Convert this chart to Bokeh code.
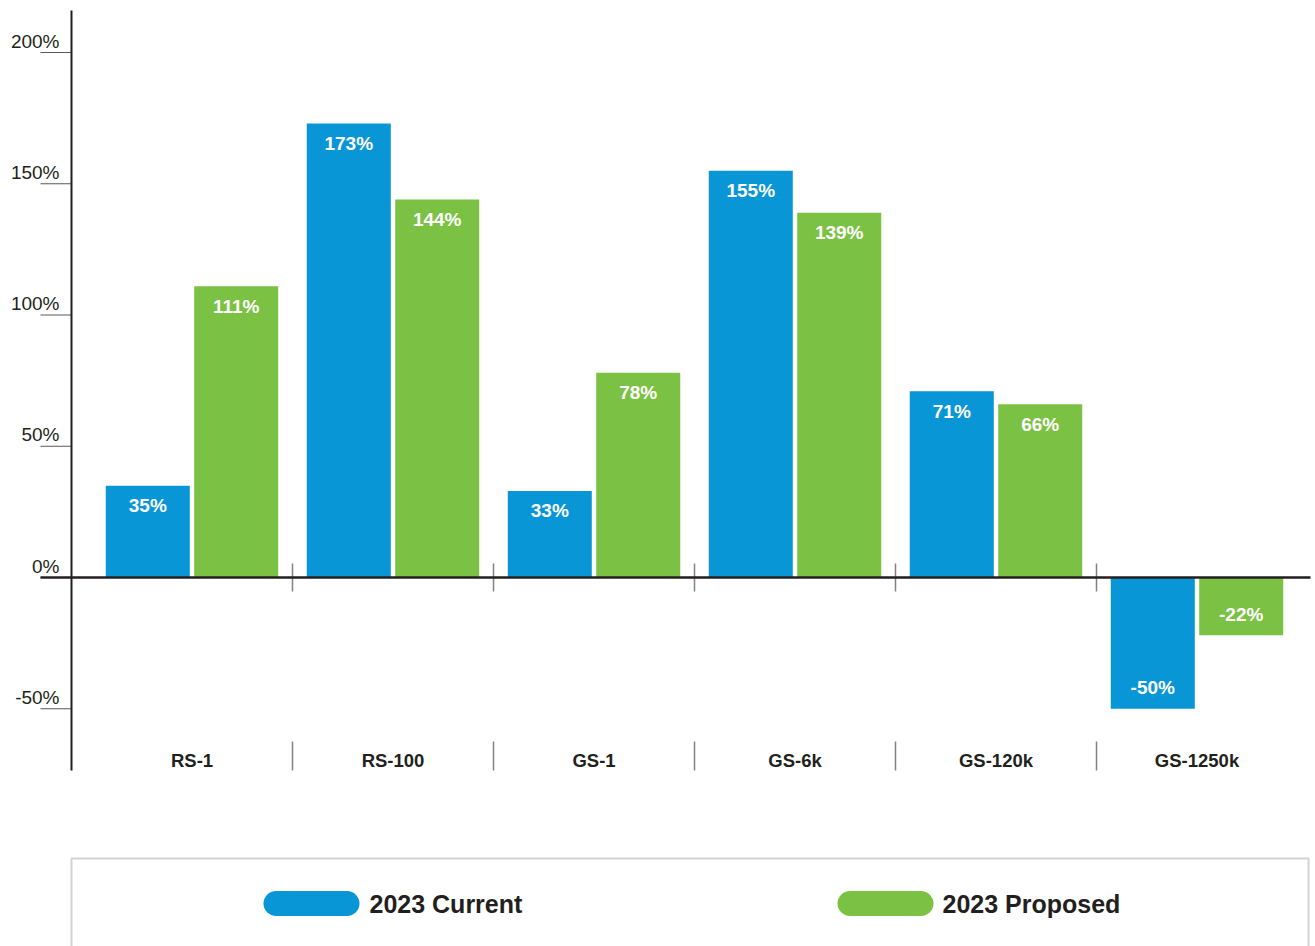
from bokeh.plotting import figure
from bokeh.models import ColumnDataSource, Range1d
from bokeh.core.properties import value
from bokeh.embed import file_html
from bokeh.resources import INLINE

# ---------------- data ----------------
categories = ["RS-1", "RS-100", "GS-1", "GS-6k", "GS-120k", "GS-1250k"]
current_2023 = [35, 173, 33, 155, 71, -50]
proposed_2023 = [111, 144, 78, 139, 66, -22]
series_names = ["2023 Current", "2023 Proposed"]
y_ticks = [-50, 0, 50, 100, 150, 200]

# ---------------- styling / geometry ----------------
BLUE = "#0896d7"
GREEN = "#7bc143"
DARK = "#231f20"
FONT = "Liberation Sans"

W, H = 1315, 946
ZERO_PX = 577.0      # pixel row of 0 %
PX_PER = 2.625       # pixels per 1 %
CAT0_PX = 191.5      # pixel column of first category centre
CAT_PX = 201.0       # pixels per category


def X(px):
    return (px - CAT0_PX) / CAT_PX


def Y(px):
    return (ZERO_PX - px) / PX_PER


p = figure(width=W, height=H,
           x_range=Range1d(X(0), X(W)), y_range=Range1d(Y(H), Y(0)),
           min_border=0, toolbar_location=None, output_backend="svg",
           x_axis_location=None, y_axis_location=None)
p.grid.visible = False
p.outline_line_color = None
p.background_fill_color = "white"
p.border_fill_color = "white"

idx = list(range(len(categories)))
OFF = 0.22
BW = 0.418

src_c = ColumnDataSource(dict(
    x=[i - OFF for i in idx], top=current_2023,
    label=[f"{v}%" for v in current_2023],
    yoff=[20 if v >= 0 else -21 for v in current_2023]))
src_p = ColumnDataSource(dict(
    x=[i + OFF for i in idx], top=proposed_2023,
    label=[f"{v}%" for v in proposed_2023],
    yoff=[20 if v >= 0 else -21 for v in proposed_2023]))

p.vbar(x="x", top="top", bottom=0, width=BW, source=src_c,
       fill_color=BLUE, line_color=None)
p.vbar(x="x", top="top", bottom=0, width=BW, source=src_p,
       fill_color=GREEN, line_color=None)

for src in (src_c, src_p):
    p.text(x="x", y="top", text="label", y_offset="yoff", source=src,
           text_align="center", text_baseline="middle",
           text_color="white", text_font=value(FONT),
           text_font_style="bold", text_font_size="19px")

# y tick marks and labels
p.segment(x0=[X(40)] * len(y_ticks), x1=[X(71)] * len(y_ticks),
          y0=y_ticks, y1=y_ticks, line_color="#58595b", line_width=1)
p.text(x=[X(59)] * len(y_ticks), y=y_ticks,
       text=[f"{t}%" for t in y_ticks], y_offset=-1,
       text_align="right", text_baseline="bottom",
       text_color=DARK, text_font=value(FONT), text_font_size="19px")

# category separators
seps = [i + 0.5 for i in idx[:-1]]
p.segment(x0=seps, x1=seps, y0=[Y(563)] * len(seps), y1=[Y(591)] * len(seps),
          line_color="#808285", line_width=1.5)
p.segment(x0=seps, x1=seps, y0=[Y(741)] * len(seps), y1=[Y(770)] * len(seps),
          line_color="#808285", line_width=1.5)

# category labels
p.text(x=idx, y=[Y(760)] * len(idx), text=categories,
       text_align="center", text_baseline="middle",
       text_color=DARK, text_font=value(FONT), text_font_style="bold",
       text_font_size="18.5px")

# zero line and vertical axis line
p.segment(x0=[X(40)], x1=[X(1310)], y0=[0], y1=[0],
          line_color=DARK, line_width=2.5)
p.segment(x0=[X(71)], x1=[X(71)], y0=[Y(10)], y1=[Y(770)],
          line_color=DARK, line_width=2)

# legend box
p.quad(left=[X(71)], right=[X(1308)], top=[Y(858)], bottom=[Y(960)],
       fill_color=None, line_color="#d1d3d4", line_width=2)
leg_y = Y(903)
pill_x0 = [X(275.5), X(849.5)]
pill_x1 = [X(346.5), X(920.5)]
p.segment(x0=pill_x0, x1=pill_x1, y0=[leg_y] * 2, y1=[leg_y] * 2,
          line_color=[BLUE, GREEN], line_width=25, line_cap="round")
p.text(x=[X(369), X(942)], y=[leg_y] * 2, text=series_names,
       text_align="left", text_baseline="middle",
       text_color=DARK, text_font=value(FONT), text_font_style="bold",
       text_font_size="25px")

open("out.html", "w").write(file_html(p, INLINE))
